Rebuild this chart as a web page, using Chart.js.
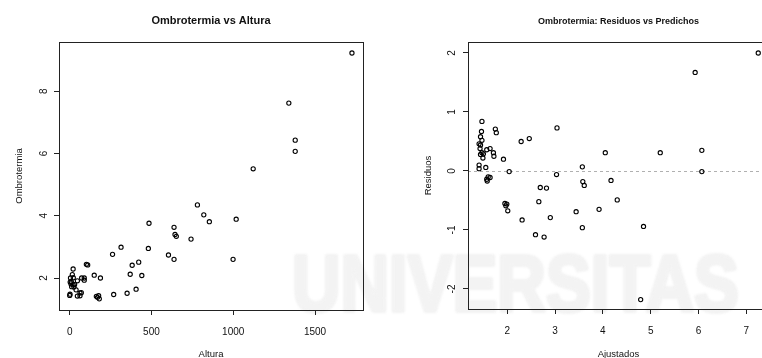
<!DOCTYPE html>
<html>
<head>
<meta charset="utf-8">
<script src="https://cdn.jsdelivr.net/npm/chart.js@4"></script>
<style>
  html, body { margin: 0; padding: 0; background: #fff; overflow: hidden; width: 762px; height: 358px; }
  body { position: relative; }
  canvas { position: absolute; top: 0; }
  #wm { left: 0; }
  #izq { left: 0; }
  #der { left: 381px; }
</style>
</head>
<body>
<canvas id="wm" width="762" height="358"></canvas>
<canvas id="izq" width="381" height="358"></canvas>
<canvas id="der" width="400" height="358"></canvas>
<script>
// Estaciones: altura (m) y ombrotermia observada
const altura = [1726,1340,1379,1379,1122,781,638,481,485,314,262,188,150,89,89,102,110,73,47,21,16,5,22,3,10,8,21,12,30,26,2,0,39,63,71,47,63,820,382,422,644,652,854,370,163,177,170,181,604,742,441,269,638,1018,351,406,999];
const ombrotermia = [9.23,7.62,6.43,6.07,5.51,4.35,3.63,2.95,3.76,2.99,2.76,2.00,2.09,2.00,1.93,2.44,2.42,2.00,1.91,2.29,2.11,2.00,2.01,1.87,1.88,1.81,1.78,1.72,1.79,1.71,1.48,1.44,1.62,1.52,1.53,1.42,1.43,4.03,2.41,2.51,3.40,3.34,3.81,2.12,1.41,1.43,1.38,1.33,2.74,3.25,2.08,1.47,2.60,3.89,1.51,1.64,2.60];

// Modelo lineal: valores ajustados y residuos
const ajustados = [7.25,5.93,6.07,6.07,5.20,4.05,3.57,3.03,3.04,2.46,2.29,2.04,1.92,1.71,1.72,1.75,1.77,1.64,1.57,1.47,1.46,1.44,1.47,1.41,1.44,1.43,1.47,1.44,1.50,1.49,1.41,1.41,1.55,1.60,1.64,1.57,1.58,4.17,2.69,2.82,3.58,3.61,4.30,2.66,1.95,1.99,1.97,2.01,3.44,3.92,2.90,2.31,3.57,4.85,2.59,2.77,4.79];
const residuos = [2.00,1.67,0.35,-0.01,0.31,0.31,0.07,-0.06,0.73,0.55,0.50,-0.01,0.20,0.31,0.25,0.71,0.65,0.38,0.36,0.84,0.67,0.58,0.52,0.46,0.44,0.38,0.31,0.28,0.29,0.22,0.10,0.04,0.06,-0.10,-0.11,-0.14,-0.17,-0.16,-0.28,-0.29,-0.18,-0.245,-0.49,-0.52,-0.55,-0.56,-0.59,-0.675,-0.69,-0.65,-0.79,-0.83,-0.96,-0.94,-1.08,-1.12,-2.18];

// Marcas de los ejes
const alturaTicks = [0, 500, 1000, 1500];
const ombroTicks = [2, 4, 6, 8];
const ajustTicks = [2, 3, 4, 5, 6, 7];
const residTicks = [-2, -1, 0, 1, 2];
const lineaCero = 0;

const FAMILY = '"Liberation Sans", Arial, Helvetica, sans-serif';
const INK = '#111';

// Marca de agua de fondo
(function () {
  const ctx = document.getElementById('wm').getContext('2d');
  ctx.save();
  ctx.filter = 'blur(0.8px)';
  ctx.fillStyle = '#f3f3f3';
  ctx.strokeStyle = '#f3f3f3';
  ctx.lineWidth = 4;
  ctx.lineJoin = 'round';
  ctx.font = 'bold 80px ' + FAMILY;
  ctx.textBaseline = 'alphabetic';
  ctx.scale(0.84, 1);
  ctx.strokeText('UNIVERSITAS', 292 / 0.84, 311);
  ctx.fillText('UNIVERSITAS', 292 / 0.84, 311);
  ctx.restore();
})();

// Caja del gráfico, etiquetas del eje Y giradas, títulos y línea de referencia
const marco = {
  id: 'marco',
  beforeDatasetsDraw(chart, args, o) {
    if (o.refLine === undefined) return;
    const { ctx, chartArea: a, scales } = chart;
    const y = Math.round(scales.y.getPixelForValue(o.refLine)) + 0.5;
    ctx.save();
    ctx.strokeStyle = '#b0b0b0';
    ctx.lineWidth = 1;
    ctx.setLineDash([3, 3]);
    ctx.beginPath();
    ctx.moveTo(a.left, y);
    ctx.lineTo(a.right, y);
    ctx.stroke();
    ctx.restore();
  },
  afterDraw(chart, args, o) {
    const { ctx, chartArea: a, scales } = chart;
    ctx.save();
    ctx.strokeStyle = '#222';
    ctx.lineWidth = 1;
    ctx.strokeRect(a.left + 0.5, a.top + 0.5, a.right - a.left, a.bottom - a.top);

    ctx.fillStyle = INK;
    ctx.font = '10px ' + FAMILY;
    ctx.textAlign = 'center';
    ctx.textBaseline = 'alphabetic';
    for (const v of o.yTicks) {
      const py = scales.y.getPixelForValue(v);
      ctx.save();
      ctx.translate(a.left - o.yLabelGap, py);
      ctx.rotate(-Math.PI / 2);
      ctx.fillText(String(v), 0, 0);
      ctx.restore();
    }

    const cx = (a.left + a.right) / 2;
    ctx.font = 'bold ' + o.titleSize + 'px ' + FAMILY;
    ctx.fillText(o.title, cx, 23.5);

    ctx.font = o.labelSize + 'px ' + FAMILY;
    ctx.fillText(o.xTitle, cx, 356.5);

    ctx.save();
    ctx.translate(o.yTitleX, (a.top + a.bottom) / 2);
    ctx.rotate(-Math.PI / 2);
    ctx.fillText(o.yTitle, 0, 0);
    ctx.restore();
    ctx.restore();
  }
};

function panel(id, xs, ys, cfg) {
  return new Chart(document.getElementById(id), {
    type: 'scatter',
    data: {
      datasets: [{
        data: xs.map((x, i) => ({ x: x, y: ys[i] })),
        pointStyle: 'circle',
        pointRadius: 2.1,
        pointBorderWidth: 1.1,
        pointBorderColor: '#000',
        pointBackgroundColor: 'rgba(0,0,0,0)'
      }]
    },
    options: {
      responsive: false,
      animation: false,
      devicePixelRatio: 1,
      layout: { padding: { top: 42, left: 0, bottom: 0, right: cfg.padRight } },
      plugins: {
        legend: { display: false },
        tooltip: { enabled: false },
        title: { display: false },
        marco: cfg.marco
      },
      scales: {
        x: {
          type: 'linear',
          min: cfg.xMin, max: cfg.xMax,
          afterFit(s) { s.height = cfg.xAxisHeight; },
          afterBuildTicks(s) { s.ticks = cfg.xTicks.map(v => ({ value: v })); },
          grid: { drawOnChartArea: false, drawTicks: true, tickLength: 5, color: '#222', lineWidth: 1 },
          border: { display: false },
          ticks: {
            color: INK, font: { family: FAMILY, size: 10 }, padding: 11,
            maxRotation: 0, minRotation: 0, autoSkip: false,
            callback: v => String(v)
          }
        },
        y: {
          type: 'linear',
          min: cfg.yMin, max: cfg.yMax,
          afterFit(s) { s.width = cfg.yAxisWidth; },
          afterBuildTicks(s) { s.ticks = cfg.marco.yTicks.map(v => ({ value: v })); },
          grid: { drawOnChartArea: false, drawTicks: true, tickLength: 5, color: '#222', lineWidth: 1 },
          border: { display: false },
          ticks: { display: false }
        }
      }
    },
    plugins: [marco]
  });
}

panel('izq', altura, ombrotermia, {
  padRight: 18, xAxisHeight: 48, yAxisWidth: 59,
  xMin: -65.4, xMax: 1793.5, yMin: 0.972, yMax: 9.584,
  xTicks: alturaTicks,
  marco: {
    yTicks: ombroTicks, yLabelGap: 12,
    title: 'Ombrotermia vs Altura', titleSize: 11,
    xTitle: 'Altura', yTitle: 'Ombrotermia', labelSize: 9.5, yTitleX: 22
  }
});

panel('der', ajustados, residuos, {
  padRight: 12, xAxisHeight: 49, yAxisWidth: 87,
  xMin: 1.178, xMax: 7.475, yMin: -2.339, yMax: 2.186,
  xTicks: ajustTicks,
  marco: {
    yTicks: residTicks, yLabelGap: 13,
    title: 'Ombrotermia: Residuos vs Predichos', titleSize: 9,
    xTitle: 'Ajustados', yTitle: 'Residuos', labelSize: 9.5, yTitleX: 50,
    refLine: lineaCero
  }
});
</script>
</body>
</html>
